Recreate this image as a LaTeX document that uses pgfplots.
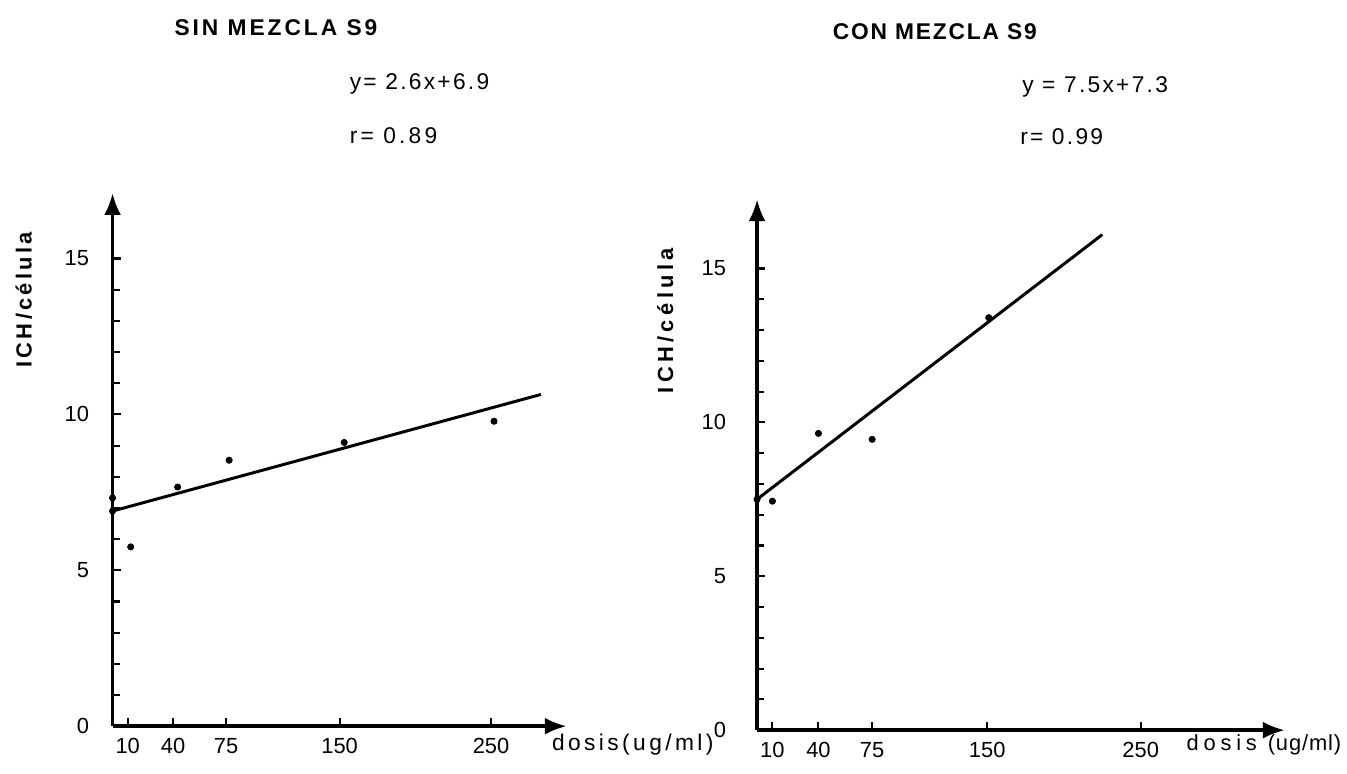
\documentclass[border=0pt]{standalone}
\usepackage{fontspec}
\setmainfont{Liberation Sans}
\usepackage{pgfplots}
\pgfplotsset{compat=1.18}
\usetikzlibrary{arrows.meta}

\pgfplotsset{
  ichax/.style={
    axis lines=left,
    axis line style={line width=2pt},
    every outer x axis line/.append style={-{Latex[length=0.44cm,width=0.34cm]}},
    every outer y axis line/.append style={-{Latex[length=0.44cm,width=0.34cm]}},
    tick align=inside,
    major tick length=0.16cm, minor tick length=0.14cm,
    tick style={line width=1.2pt, black},
    xtick={10,40,75,150,250},
    ytick={0,5,10,15}, minor y tick num=4,
    tick label style={font=\fontsize{12.5}{14}\selectfont},
    xticklabel style={yshift=-0.12cm},
    /pgf/number format/assume math mode=true,
    clip=false,
  }
}

\begin{document}
\begin{tikzpicture}
\path (0,0) rectangle (26.94,15.52);

% sin mezcla S9
\begin{axis}[ichax, at={(2.26cm,0.94cm)}, anchor=origin,
  x=0.0304cm, y=0.626cm, xmin=0, xmax=300, ymin=0, ymax=17.1,
  yticklabel style={xshift=-0.35cm}]
\addplot[only marks, mark=*, mark size=1.8pt] coordinates {
  (0,7.32) (0,6.9) (12,5.75) (43,7.67) (77,8.53) (153,9.1) (252,9.78)};
\addplot[line width=1.7pt] coordinates {(0,6.9) (283,10.64)};
\end{axis}

% con mezcla S9
\begin{axis}[ichax, at={(15.2cm,0.86cm)}, anchor=origin,
  x=0.0308cm, y=0.618cm, xmin=0, xmax=344, ymin=0, ymax=17.25,
  yticklabel style={xshift=-0.5cm}]
\addplot[only marks, mark=*, mark size=1.8pt] coordinates {
  (0,7.5) (10,7.44) (40,9.64) (75,9.45) (151,13.4)};
\addplot[line width=1.7pt] coordinates {(0,7.5) (225,16.1)};
\end{axis}

\node[font=\fontsize{13}{15}\selectfont\bfseries\addfontfeature{LetterSpace=13}] at (5.54,14.96) {SIN MEZCLA S9};
\node[font=\fontsize{13}{15}\selectfont\addfontfeature{LetterSpace=10}, anchor=west] at (6.9,13.84) {y= 2.6x+6.9};
\node[font=\fontsize{13}{15}\selectfont\addfontfeature{LetterSpace=14}, anchor=west] at (6.9,12.8) {r= 0.89};
\node[font=\fontsize{13}{15}\selectfont\bfseries\addfontfeature{LetterSpace=8}] at (18.77,14.88) {CON MEZCLA S9};
\node[font=\fontsize{13}{15}\selectfont\addfontfeature{LetterSpace=10}, anchor=west] at (20.4,13.78) {y = 7.5x+7.3};
\node[font=\fontsize{13}{15}\selectfont\addfontfeature{LetterSpace=10}, anchor=west] at (20.36,12.78) {r= 0.99};

\node[rotate=90, font=\fontsize{12.5}{14}\selectfont\bfseries\addfontfeature{LetterSpace=15}] at (0.48,9.5) {ICH/célula};
\node[rotate=90, font=\fontsize{12.5}{14}\selectfont\bfseries\addfontfeature{LetterSpace=20}] at (13.36,9.08) {ICH/célula};
\node[anchor=west, font=\fontsize{13}{15}\selectfont\addfontfeature{LetterSpace=15}] at (10.96,0.56) {dosis(ug/ml)};
\node[anchor=west, font=\fontsize{12.5}{15}\selectfont] at (23.7,0.56) {\addfontfeature{LetterSpace=22}dosis \addfontfeature{LetterSpace=4}(ug/ml)};
\end{tikzpicture}
\end{document}
